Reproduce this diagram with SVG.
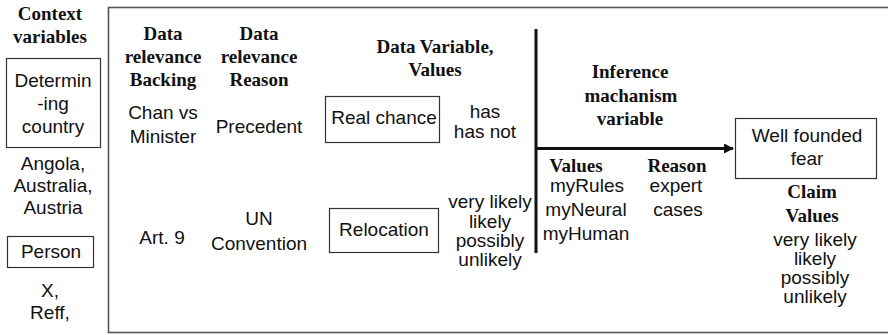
<svg xmlns="http://www.w3.org/2000/svg" width="888" height="335" viewBox="0 0 888 335">
<defs>
<style>
.h{font-family:"Liberation Serif","Times New Roman",serif;font-weight:bold;font-size:19px;fill:#111;text-anchor:middle}
.t{font-family:"Liberation Sans",Arial,sans-serif;font-size:19px;fill:#111;text-anchor:middle}
.box{fill:#fff;stroke:#333;stroke-width:1.2}
.frame{fill:none;stroke:#555;stroke-width:1.6}
.thick{stroke:#111;stroke-width:3;fill:none}
</style>
<marker id="ah" markerWidth="10" markerHeight="10" refX="9" refY="5" orient="auto" markerUnits="userSpaceOnUse">
<path d="M0,0 L10,5 L0,10 Z" fill="#111"/>
</marker>
</defs>
<rect width="888" height="335" fill="#fff"/>
<g id="context">
<text class="h" x="50" y="20">Context</text>
<text class="h" x="50" y="43">variables</text>
</g>
<g id="determining-country">
<rect class="box" x="6.5" y="58.5" width="94" height="89"/>
<text class="t" x="53" y="87">Determin</text>
<text class="t" x="53" y="110">-ing</text>
<text class="t" x="53" y="133">country</text>
<text class="t" x="53" y="170">Angola,</text>
<text class="t" x="53" y="192">Australia,</text>
<text class="t" x="53" y="214">Austria</text>
</g>
<g id="person">
<rect class="box" x="7.5" y="236.5" width="86" height="31"/>
<text class="t" x="51" y="258">Person</text>
<text class="t" x="50" y="297">X,</text>
<text class="t" x="50" y="319">Reff,</text>
</g>
<rect class="frame" x="108.5" y="7.5" width="790" height="325"/>
<g id="backing">
<text class="h" x="163" y="40">Data</text>
<text class="h" x="163" y="63">relevance</text>
<text class="h" x="163" y="86">Backing</text>
<text class="t" x="163" y="119">Chan vs</text>
<text class="t" x="163" y="143">Minister</text>
<text class="t" x="162" y="244">Art. 9</text>
</g>
<g id="reason">
<text class="h" x="259" y="40">Data</text>
<text class="h" x="259" y="63">relevance</text>
<text class="h" x="259" y="86">Reason</text>
<text class="t" x="259" y="133">Precedent</text>
<text class="t" x="259" y="225">UN</text>
<text class="t" x="259" y="250">Convention</text>
</g>
<g id="data-variable">
<text class="h" x="435" y="53">Data Variable,</text>
<text class="h" x="435" y="76">Values</text>
</g>
<g id="real-chance">
<rect class="box" x="325.5" y="96.5" width="114" height="46"/>
<text class="t" x="384" y="124">Real chance</text>
<text class="t" x="485" y="118">has</text>
<text class="t" x="485" y="138">has not</text>
</g>
<g id="relocation">
<rect class="box" x="329.5" y="208.5" width="109" height="44"/>
<text class="t" x="384" y="236">Relocation</text>
<text class="t" x="490" y="208">very likely</text>
<text class="t" x="490" y="228">likely</text>
<text class="t" x="490" y="247">possibly</text>
<text class="t" x="490" y="266">unlikely</text>
</g>
<g id="inference">
<text class="h" x="630" y="78">Inference</text>
<text class="h" x="631" y="102">machanism</text>
<text class="h" x="630" y="125">variable</text>
<text class="h" x="576" y="172">Values</text>
<text class="t" x="587" y="192">myRules</text>
<text class="t" x="586" y="216">myNeural</text>
<text class="t" x="586" y="240">myHuman</text>
<text class="h" x="677" y="172">Reason</text>
<text class="t" x="676" y="192">expert</text>
<text class="t" x="678" y="216">cases</text>
</g>
<g id="claim">
<rect class="box" x="735.5" y="118.5" width="141" height="60"/>
<text class="t" x="807" y="142">Well founded</text>
<text class="t" x="807" y="165">fear</text>
<text class="h" x="812" y="198">Claim</text>
<text class="h" x="812" y="222">Values</text>
<text class="t" x="815" y="246">very likely</text>
<text class="t" x="815" y="265">likely</text>
<text class="t" x="815" y="284">possibly</text>
<text class="t" x="815" y="303">unlikely</text>
</g>
<g id="connectors">
<line class="thick" x1="536" y1="29" x2="536" y2="253"/>
<line class="thick" x1="536" y1="148.5" x2="733" y2="148.5" marker-end="url(#ah)"/>
</g>
</svg>
